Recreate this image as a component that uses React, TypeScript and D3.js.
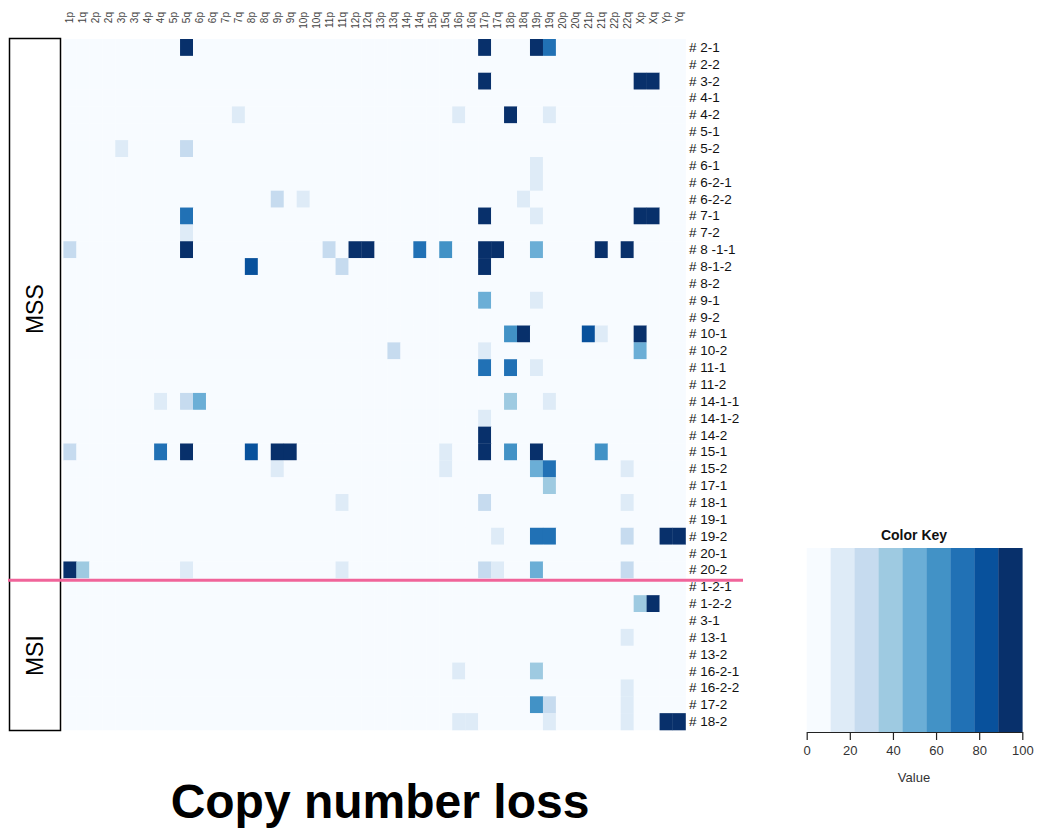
import { useRef, useEffect } from 'react';
import * as d3 from 'd3';

const arms = [
  '1p', '1q', '2p', '2q', '3p', '3q', '4p', '4q', '5p', '5q', '6p', '6q',
  '7p', '7q', '8p', '8q', '9p', '9q', '10p', '10q', '11p', '11q', '12p', '12q',
  '13p', '13q', '14p', '14q', '15p', '15q', '16p', '16q', '17p', '17q', '18p', '18q',
  '19p', '19q', '20p', '20q', '21p', '21q', '22p', '22q', 'Xp', 'Xq', 'Yp', 'Yq',
];

const mssSamples = [
  '# 2-1', '# 2-2', '# 3-2', '# 4-1', '# 4-2', '# 5-1', '# 5-2', '# 6-1',
  '# 6-2-1', '# 6-2-2', '# 7-1', '# 7-2', '# 8 -1-1', '# 8-1-2', '# 8-2', '# 9-1',
  '# 9-2', '# 10-1', '# 10-2', '# 11-1', '# 11-2', '# 14-1-1', '# 14-1-2', '# 14-2',
  '# 15-1', '# 15-2', '# 17-1', '# 18-1', '# 19-1', '# 19-2', '# 20-1', '# 20-2',
];
const msiSamples = [
  '# 1-2-1', '# 1-2-2', '# 3-1', '# 13-1', '# 13-2', '# 16-2-1', '# 16-2-2', '# 17-2', '# 18-2',
];

// percent of cells with loss, per sample row; arms not listed are 0
const lossMss: [string, number][][] = [
  [['5q', 100], ['17p', 100], ['19p', 100], ['19q', 70]],
  [],
  [['17p', 100], ['Xp', 100], ['Xq', 100]],
  [],
  [['7q', 15], ['16p', 15], ['18p', 100], ['19q', 15]],
  [],
  [['3p', 15], ['5q', 25]],
  [['19p', 15]],
  [['19p', 15]],
  [['9p', 25], ['10p', 15], ['18q', 15]],
  [['5q', 70], ['17p', 100], ['19p', 15], ['Xp', 100], ['Xq', 100]],
  [['5q', 15]],
  [['1p', 25], ['5q', 100], ['11p', 25], ['12p', 100], ['12q', 100], ['14q', 70], ['15q', 60],
    ['17p', 100], ['17q', 100], ['19p', 50], ['21q', 100], ['22q', 100]],
  [['8p', 85], ['11q', 25], ['17p', 100]],
  [],
  [['17p', 50], ['19p', 15]],
  [],
  [['18p', 60], ['18q', 100], ['21p', 85], ['21q', 15], ['Xp', 100]],
  [['13q', 25], ['17p', 15], ['Xp', 50]],
  [['17p', 70], ['18p', 70], ['19p', 15]],
  [],
  [['4q', 15], ['5q', 25], ['6p', 50], ['18p', 40], ['19q', 15]],
  [['17p', 15]],
  [['17p', 100]],
  [['1p', 25], ['4q', 70], ['5q', 100], ['8p', 85], ['9p', 100], ['9q', 100], ['15q', 15],
    ['17p', 100], ['18p', 60], ['19p', 100], ['21q', 60]],
  [['9p', 15], ['15q', 15], ['19p', 50], ['19q', 70], ['22q', 15]],
  [['19q', 40]],
  [['11q', 15], ['17p', 25], ['22q', 15]],
  [],
  [['17q', 15], ['19p', 70], ['19q', 70], ['22q', 25], ['Yp', 100], ['Yq', 100]],
  [],
  [['1p', 100], ['1q', 40], ['5q', 15], ['11q', 15], ['17p', 25], ['17q', 15], ['19p', 50], ['22q', 25]],
];

const lossMsi: [string, number][][] = [
  [],
  [['Xp', 40], ['Xq', 100]],
  [],
  [['22q', 15]],
  [],
  [['16p', 15], ['19p', 40]],
  [['22q', 15]],
  [['19p', 60], ['19q', 25], ['22q', 15]],
  [['16p', 15], ['16q', 15], ['19q', 15], ['22q', 15], ['Yp', 100], ['Yq', 100]],
];

const keyTicks = [0, 20, 40, 60, 80, 100];

const font = 'Liberation Sans, Arial, sans-serif';

export default function App() {
  const svgRef = useRef<SVGSVGElement>(null);

  useEffect(() => {
    const svg = d3.select(svgRef.current);
    svg.selectAll('*').remove();

    const samples = [...mssSamples, ...msiSamples];
    const loss = [...lossMss, ...lossMsi];

    const x = d3.scaleBand().domain(arms).range([63.4, 685.5]);
    const y = d3.scaleBand().domain(samples).range([39, 730]);
    const color = d3.scaleQuantize<string>().domain([0, 100]).range(d3.schemeBlues[9]);

    const cells: { s: string; a: string; v: number }[] = [];
    samples.forEach((s, i) => {
      const m = new Map(loss[i]);
      arms.forEach(a => cells.push({ s, a, v: m.get(a) ?? 0 }));
    });

    svg.append('g')
      .selectAll('rect')
      .data(cells)
      .join('rect')
      .attr('x', d => x(d.a)!)
      .attr('y', d => y(d.s)!)
      .attr('width', x.bandwidth() + 0.3)
      .attr('height', y.bandwidth() + 0.3)
      .attr('fill', d => color(d.v));

    // arm labels along the top
    svg.append('g')
      .selectAll('text')
      .data(arms)
      .join('text')
      .attr('transform', d => `translate(${x(d)! + x.bandwidth() / 2},12) rotate(-90)`)
      .attr('text-anchor', 'end')
      .attr('dominant-baseline', 'central')
      .style('font', `10px ${font}`)
      .attr('fill', '#444')
      .text(d => d);

    // sample labels on the right
    svg.append('g')
      .selectAll('text')
      .data(samples)
      .join('text')
      .attr('x', 689)
      .attr('y', d => y(d)! + y.bandwidth() / 2)
      .attr('dominant-baseline', 'central')
      .style('font', `13.5px ${font}`)
      .attr('fill', '#111')
      .text(d => d);

    // group box
    const split = y(msiSamples[0])! + 2;
    svg.append('rect')
      .attr('x', 9.5).attr('y', 38.5)
      .attr('width', 51).attr('height', 692)
      .attr('fill', '#fff').attr('stroke', '#000').attr('stroke-width', 1.5);

    svg.append('text')
      .attr('transform', `translate(35,${(38 + split) / 2}) rotate(-90)`)
      .attr('text-anchor', 'middle')
      .attr('dominant-baseline', 'central')
      .style('font', `23px ${font}`)
      .text('MSS');
    svg.append('text')
      .attr('transform', `translate(35,${(split + 731) / 2}) rotate(-90)`)
      .attr('text-anchor', 'middle')
      .attr('dominant-baseline', 'central')
      .style('font', `23px ${font}`)
      .text('MSI');

    svg.append('line')
      .attr('x1', 8).attr('x2', 743)
      .attr('y1', split).attr('y2', split)
      .attr('stroke', '#f0649a').attr('stroke-width', 3);

    // color key
    const kx = d3.scaleLinear().domain([0, 100]).range([806.7, 1022.3]);
    const bins = d3.range(9);
    svg.append('g')
      .selectAll('rect')
      .data(bins)
      .join('rect')
      .attr('x', i => kx(i * 100 / 9))
      .attr('y', 548)
      .attr('width', kx(100 / 9) - kx(0) + 0.3)
      .attr('height', 184)
      .attr('fill', i => d3.schemeBlues[9][i]);

    const axis = svg.append('g')
      .attr('transform', 'translate(0,732)')
      .call(d3.axisBottom(kx).tickValues(keyTicks).tickSize(8).tickSizeOuter(0).tickPadding(6));
    axis.selectAll('path, line').attr('stroke', '#222').attr('stroke-width', 1.2);
    axis.selectAll('text').style('font', `13px ${font}`).attr('fill', '#333');

    svg.append('text')
      .attr('x', 914).attr('y', 540)
      .attr('text-anchor', 'middle')
      .style('font', `bold 14px ${font}`)
      .attr('fill', '#111')
      .text('Color Key');
    svg.append('text')
      .attr('x', 914).attr('y', 782)
      .attr('text-anchor', 'middle')
      .style('font', `13px ${font}`)
      .attr('fill', '#333')
      .text('Value');

    svg.append('text')
      .attr('x', 380).attr('y', 818)
      .attr('text-anchor', 'middle')
      .style('font', `bold 48px ${font}`)
      .attr('fill', '#000')
      .text('Copy number loss');
  }, []);

  return (
    <svg
      ref={svgRef}
      width={1037}
      height={831}
      style={{ position: 'absolute', left: 0, top: 0, background: '#fff' }}
    />
  );
}
